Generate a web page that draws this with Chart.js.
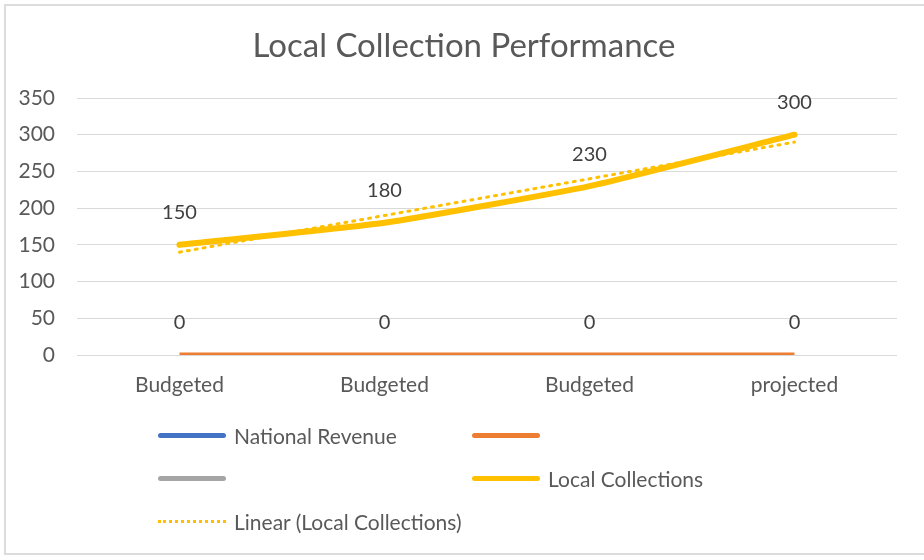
<!DOCTYPE html>
<html>
<head>
<meta charset="utf-8">
<script src="https://cdn.jsdelivr.net/npm/chart.js@4/dist/chart.umd.min.js"></script>
<style>
  html, body { margin: 0; padding: 0; background: #fff; }
  #wrap { position: relative; width: 924px; height: 560px; overflow: hidden; background: #fff; }
  #frame { position: absolute; left: 4px; top: 4px; width: 930px; height: 551px; border: 2px solid #DCDCDC; box-sizing: border-box; }
  canvas { position: absolute; left: 0; top: 0; }
  .leg { position: absolute; font-family: Lato, "Open Sans", sans-serif; font-size: 21px; color: #595959; display: flex; align-items: center; white-space: nowrap; }
  .sw { width: 68px; height: 0; margin-right: 8px; border-radius: 3px; }
</style>
</head>
<body>
<div id="wrap">
  <div id="frame"></div>
  <canvas id="c" width="924" height="560"></canvas>
  <div id="legend"></div>
</div>
<script>
const chartTitle = "Local Collection Performance";
const categories = ["Budgeted", "Budgeted", "Budgeted", "projected"];
const nationalRevenue = [null, null, null, null];
const unnamedOrange = [0, 0, 0, 0];
const unnamedGray = [null, null, null, null];
const localCollections = [150, 180, 230, 300];
const linearLocalCollections = [140, 190, 240, 290];
const yTicks = [0, 50, 100, 150, 200, 250, 300, 350];

const FONT = 'Lato, "Open Sans", sans-serif';

const labelPlugin = {
  id: 'pointLabels',
  afterDatasetsDraw(chart) {
    const ctx = chart.ctx;
    ctx.save();
    ctx.font = '20px ' + FONT;
    ctx.fillStyle = '#404040';
    ctx.textAlign = 'center';
    ctx.textBaseline = 'middle';
    chart.data.datasets.forEach((ds, i) => {
      if (!ds.showLabels) return;
      const meta = chart.getDatasetMeta(i);
      meta.data.forEach((pt, j) => {
        const v = ds.data[j];
        if (v === null || v === undefined) return;
        ctx.fillText(String(v), pt.x, pt.y - 32);
      });
    });
    ctx.restore();
  }
};

// Title drawn centred on the chart frame (like Excel), not on the canvas minus paddings
const titlePlugin = {
  id: 'frameTitle',
  afterDraw(chart) {
    const ctx = chart.ctx;
    ctx.save();
    ctx.font = '33px ' + FONT;
    ctx.fillStyle = '#595959';
    ctx.textAlign = 'center';
    ctx.textBaseline = 'middle';
    ctx.fillText(chartTitle, 464, 46);
    ctx.restore();
  }
};

const chart = new Chart(document.getElementById('c'), {
  type: 'line',
  data: {
    labels: categories,
    datasets: [
      { label: 'National Revenue', data: nationalRevenue, borderColor: '#4472C4', borderWidth: 5, pointRadius: 0 },
      { label: '', data: unnamedOrange, borderColor: '#ED7D31', borderWidth: 5, pointRadius: 0, showLabels: true },
      { label: '', data: unnamedGray, borderColor: '#A5A5A5', borderWidth: 5, pointRadius: 0 },
      { label: 'Local Collections', data: localCollections, borderColor: '#FFC000', borderWidth: 6, pointRadius: 0, tension: 0.15, borderCapStyle: 'round', showLabels: true },
      { label: 'Linear (Local Collections)', data: linearLocalCollections, borderColor: '#FFC000', borderWidth: 3, borderDash: [2, 6], borderCapStyle: 'round', pointRadius: 0, tension: 0 }
    ]
  },
  options: {
    responsive: false,
    animation: false,
    devicePixelRatio: 1,
    layout: { padding: { top: 98, left: 0, right: 27, bottom: 100 } },
    plugins: {
      legend: { display: false },
      tooltip: { enabled: false },
      title: { display: false }
    },
    scales: {
      x: {
        offset: true,
        grid: { display: false, drawTicks: false },
        border: { display: false },
        ticks: { color: '#595959', font: { family: FONT, size: 21 }, padding: 18, maxRotation: 0 },
        afterFit(scale) { scale.height = 105; }
      },
      y: {
        min: 0, max: 350,
        afterBuildTicks(scale) { scale.ticks = yTicks.map(v => ({ value: v })); },
        grid: { color: '#D9D9D9', lineWidth: 1, drawTicks: false },
        border: { display: false },
        ticks: { color: '#595959', font: { family: FONT, size: 21 }, padding: 22 },
        afterFit(scale) { scale.width = 77; }
      }
    }
  },
  plugins: [labelPlugin, titlePlugin]
});

// HTML legend laid out in two columns like the reference
const legendLayout = [
  { ds: 0, x: 158, y: 436 },
  { ds: 1, x: 472, y: 436 },
  { ds: 2, x: 158, y: 479 },
  { ds: 3, x: 472, y: 479 },
  { ds: 4, x: 158, y: 522 }
];
const legendEl = document.getElementById('legend');
legendLayout.forEach(item => {
  const ds = chart.data.datasets[item.ds];
  const div = document.createElement('div');
  div.className = 'leg';
  div.style.left = item.x + 'px';
  div.style.top = (item.y - 13) + 'px';
  div.style.height = '24px';
  const sw = document.createElement('span');
  sw.className = 'sw';
  if (ds.borderDash) {
    sw.style.borderTop = '3px dotted ' + ds.borderColor;
    sw.style.borderRadius = '0';
  } else {
    sw.style.borderTop = '5px solid ' + ds.borderColor;
  }
  const tx = document.createElement('span');
  tx.textContent = ds.label;
  div.appendChild(sw);
  div.appendChild(tx);
  legendEl.appendChild(div);
});
</script>
</body>
</html>
